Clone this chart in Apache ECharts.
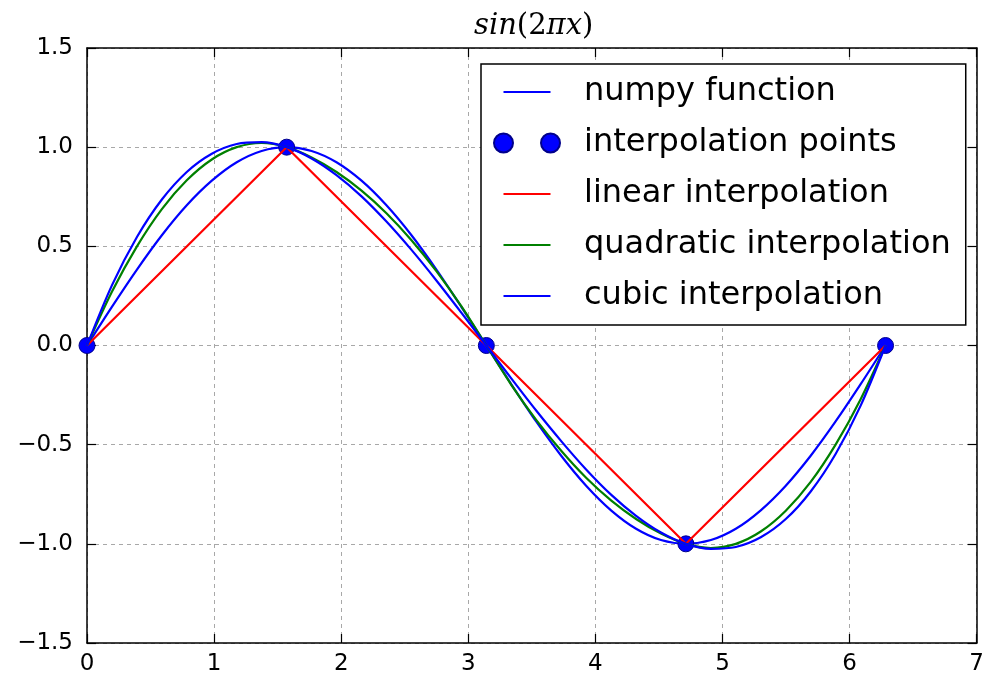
<!DOCTYPE html>
<html>
<head>
<meta charset="utf-8">
<script src="https://cdn.jsdelivr.net/npm/echarts@6/dist/echarts.min.js"></script>
<style>
html, body { margin: 0; padding: 0; background: #fff; }
#main { width: 987px; height: 679px; }
</style>
</head>
<body>
<div id="main"></div>
<script>
// x positions where the curves were read (steps of pi/16)
const sampleX = [0, 0.196, 0.393, 0.589, 0.785, 0.982, 1.178, 1.374, 1.571, 1.767, 1.963, 2.16, 2.356,
  2.553, 2.749, 2.945, 3.142, 3.338, 3.534, 3.731, 3.927, 4.123, 4.32, 4.516, 4.712, 4.909, 5.105,
  5.301, 5.498, 5.694, 5.89, 6.087, 6.283];

// numpy function
const numpyY = [0, 0.195, 0.383, 0.556, 0.707, 0.831, 0.924, 0.981, 1, 0.981, 0.924, 0.831, 0.707,
  0.556, 0.383, 0.195, 0, -0.195, -0.383, -0.556, -0.707, -0.831, -0.924, -0.981, -1, -0.981, -0.924,
  -0.831, -0.707, -0.556, -0.383, -0.195, 0];

// quadratic interpolation
const quadraticY = [0, 0.271, 0.5, 0.688, 0.833, 0.938, 1, 1.021, 1, 0.948, 0.875, 0.781, 0.667,
  0.531, 0.375, 0.198, 0, -0.198, -0.375, -0.531, -0.667, -0.781, -0.875, -0.948, -1, -1.021, -1,
  -0.938, -0.833, -0.688, -0.5, -0.271, 0];

// cubic interpolation
const cubicY = [0, 0.303, 0.547, 0.736, 0.875, 0.967, 1.016, 1.025, 1, 0.943, 0.859, 0.752, 0.625,
  0.482, 0.328, 0.166, 0, -0.166, -0.328, -0.482, -0.625, -0.752, -0.859, -0.943, -1, -1.025, -1.016,
  -0.967, -0.875, -0.736, -0.547, -0.303, 0];

// interpolation points (also used by the linear interpolation)
const pointX = [0, 1.571, 3.142, 4.712, 6.283];
const pointY = [0, 1, 0, -1, 0];

// axis ranges
const xRange = [0, 7, 1];
const yRange = [-1.5, 1.5, 0.5];

const seriesNames = ['numpy function', 'interpolation points', 'linear interpolation',
  'quadratic interpolation', 'cubic interpolation'];

function pairs(xs, ys) {
  return xs.map((x, i) => [x, ys[i]]);
}

const lineIcon = 'path://M0,0 M66,19 M9.5,8.5 L56.5,8.5 L56.5,10.5 L9.5,10.5 Z';
const dotIcon = 'path://M0,9.5 a9.5,9.5 0 1,0 19,0 a9.5,9.5 0 1,0 -19,0 Z M47,9.5 a9.5,9.5 0 1,0 19,0 a9.5,9.5 0 1,0 -19,0 Z';

const chart = echarts.init(document.getElementById('main'), null, { renderer: 'canvas' });

const tickFont = { color: '#000', fontFamily: 'DejaVu Sans', fontSize: 23 };

function lineSeries(name, data, color, z) {
  return {
    name: name,
    type: 'line',
    data: data,
    symbol: 'none',
    smooth: 0.3,
    color: color,
    lineStyle: { color: color, width: 2.2 },
    z: z
  };
}

const option = {
  backgroundColor: '#ffffff',
  animation: false,
  title: {
    text: '{i|sin}{n|(2}{i|πx}{n|)}',
    left: 469,
    top: 7,
    textStyle: {
      fontWeight: 'normal',
      rich: {
        i: { fontFamily: 'DejaVu Serif', fontStyle: 'italic', fontWeight: 'normal', fontSize: 29, color: '#000' },
        n: { fontFamily: 'DejaVu Serif', fontWeight: 'normal', fontSize: 29, color: '#000' }
      }
    }
  },
  grid: { left: 87, right: 7, top: 48, bottom: 36, containLabel: false },
  legend: {
    orient: 'vertical',
    left: 481,
    top: 64,
    padding: [12, 15, 13, 12],
    itemGap: 19,
    itemWidth: 66,
    itemHeight: 19,
    symbolKeepAspect: true,
    borderColor: '#000',
    borderWidth: 1.5,
    backgroundColor: '#fff',
    textStyle: {
      fontFamily: 'DejaVu Sans',
      fontSize: 32,
      lineHeight: 32,
      color: '#000',
      padding: [0, 0, 0, 19]
    },
    data: [
      { name: seriesNames[0], icon: lineIcon },
      { name: seriesNames[1], icon: dotIcon },
      { name: seriesNames[2], icon: lineIcon },
      { name: seriesNames[3], icon: lineIcon },
      { name: seriesNames[4], icon: lineIcon }
    ]
  },
  xAxis: [{
    type: 'value',
    min: xRange[0], max: xRange[1], interval: xRange[2],
    axisLine: { onZero: false, lineStyle: { color: '#000', width: 1.5 } },
    axisTick: { inside: true, length: 9, lineStyle: { color: '#000', width: 1.2 } },
    axisLabel: Object.assign({ margin: 10 }, tickFont),
    splitLine: { show: true, lineStyle: { color: '#a8a8a8', type: [4, 4], width: 1 } }
  }, {
    type: 'value',
    position: 'top',
    min: xRange[0], max: xRange[1], interval: xRange[2],
    axisLine: { onZero: false, lineStyle: { color: '#000', width: 1.5 } },
    axisTick: { inside: true, length: 9, lineStyle: { color: '#000', width: 1.2 } },
    axisLabel: { show: false },
    splitLine: { show: false }
  }],
  yAxis: [{
    type: 'value',
    min: yRange[0], max: yRange[1], interval: yRange[2],
    axisLine: { onZero: false, lineStyle: { color: '#000', width: 1.5 } },
    axisTick: { inside: true, length: 9, lineStyle: { color: '#000', width: 1.2 } },
    axisLabel: Object.assign({
      margin: 14,
      formatter: v => v.toFixed(1).replace('-', '\u2212')
    }, tickFont),
    splitLine: { show: true, lineStyle: { color: '#a8a8a8', type: [4, 4], width: 1 } }
  }, {
    type: 'value',
    position: 'right',
    min: yRange[0], max: yRange[1], interval: yRange[2],
    axisLine: { onZero: false, lineStyle: { color: '#000', width: 1.5 } },
    axisTick: { inside: true, length: 9, lineStyle: { color: '#000', width: 1.2 } },
    axisLabel: { show: false },
    splitLine: { show: false }
  }],
  series: [
    lineSeries(seriesNames[0], pairs(sampleX, numpyY), '#0000ff', 2),
    {
      name: seriesNames[1],
      type: 'scatter',
      data: pairs(pointX, pointY),
      symbol: 'circle',
      symbolSize: 16,
      color: '#0000ff',
      itemStyle: { color: '#0000ff', opacity: 1, borderColor: '#00008b', borderWidth: 1 },
      z: 3
    },
    Object.assign(lineSeries(seriesNames[2], pairs(pointX, pointY), '#ff0000', 4), { smooth: false }),
    lineSeries(seriesNames[3], pairs(sampleX, quadraticY), '#008000', 5),
    lineSeries(seriesNames[4], pairs(sampleX, cubicY), '#0000ff', 6)
  ]
};

chart.setOption(option);
</script>
</body>
</html>
